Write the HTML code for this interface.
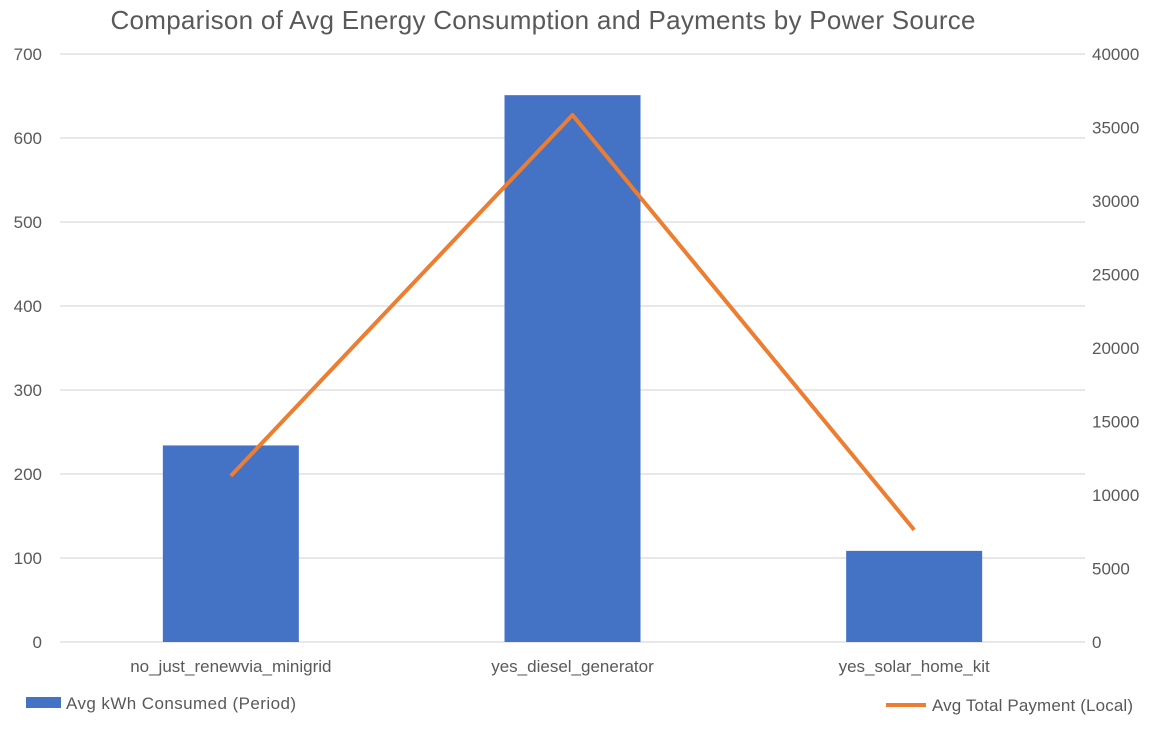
<!DOCTYPE html>
<html><head><meta charset="utf-8"><style>
body{margin:0;background:#fff;font-family:"Liberation Sans",sans-serif}
svg text{font-family:"Liberation Sans",sans-serif;fill:#595959}
</style></head><body>
<svg width="1167" height="737">
<rect x="0" y="0" width="1167" height="737" fill="#fff"/>
<text x="543" y="29" font-size="26" text-anchor="middle" textLength="865">Comparison of Avg Energy Consumption and Payments by Power Source</text>
<g id="grid"></g><g id="bars"></g><g id="line"></g><g id="axes"></g>
<rect x="26" y="697" width="35" height="11" fill="#4472C4"/>
<text x="66" y="709" font-size="17" textLength="230">Avg kWh Consumed (Period)</text>
<line x1="886" y1="705" x2="926" y2="705" stroke="#ED7D31" stroke-width="4"/>
<text x="932" y="711" font-size="17" textLength="201">Avg Total Payment (Local)</text>
</svg>
<script>
const categories=["no_just_renewvia_minigrid","yes_diesel_generator","yes_solar_home_kit"];
const kwhValues=[234,651,108.5];
const paymentValues=[11300,35850,7630];
const leftTicks=[0,100,200,300,400,500,600,700];
const rightTicks=[0,5000,10000,15000,20000,25000,30000,35000,40000];
const NS="http://www.w3.org/2000/svg";
const y0=642,y1=54,x0=60,x1=1085;
const yL=v=>y0-(v/700)*(y0-y1);
const yR=v=>y0-(v/40000)*(y0-y1);
const band=(x1-x0)/categories.length;
const xc=i=>x0+band*(i+0.5);
function mk(t,a,p){const e=document.createElementNS(NS,t);for(const k in a)e.setAttribute(k,a[k]);p.appendChild(e);return e;}
const g=document.getElementById('grid'),b=document.getElementById('bars'),l=document.getElementById('line'),ax=document.getElementById('axes');
leftTicks.forEach(v=>{
 const ln=mk('line',{x1:x0,x2:x1,y1:yL(v),y2:yL(v),stroke:'#d9d9d9','stroke-width':1.3},g);
 
 
 const t=mk('text',{x:42,y:yL(v)+6,'font-size':17,'text-anchor':'end'},ax);t.textContent=v;
 
 
});
rightTicks.forEach(v=>{
 const t=mk('text',{x:1092,y:yR(v)+6,'font-size':17},ax);t.textContent=v;
 
 
});
const bw=136;
kwhValues.forEach((v,i)=>{
 const r=mk('rect',{x:xc(i)-bw/2,y:yL(v),width:bw,height:y0-yL(v),fill:'#4472C4'},b);
 
 
 const t=mk('text',{x:xc(i),y:672,'font-size':17,'text-anchor':'middle'},ax);t.textContent=categories[i];
 
 
});
const pl=mk('polyline',{points:paymentValues.map((v,i)=>xc(i)+','+yR(v)).join(' '),fill:'none',stroke:'#ED7D31','stroke-width':4,'stroke-linejoin':'round'},l);


</script>
</body></html>
